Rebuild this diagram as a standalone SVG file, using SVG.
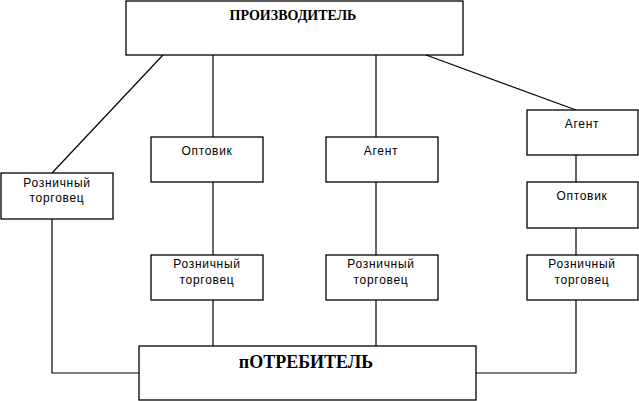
<svg xmlns="http://www.w3.org/2000/svg" width="639" height="401" viewBox="0 0 639 401">
<style>
.box{fill:#fff;stroke:#000;stroke-width:1.3}
.ln{fill:none;stroke:#000;stroke-width:1.2}
.t{font-family:"Liberation Sans",Arial,sans-serif;font-size:12px;text-anchor:middle;fill:#000;letter-spacing:0.7px}
.b{font-family:"Liberation Serif","Times New Roman",serif;font-weight:bold;text-anchor:middle;fill:#000}
</style>
<rect width="639" height="401" fill="#fff"/>
<g id="connectors">
<line class="ln" x1="163" y1="55" x2="52" y2="173"/>
<line class="ln" x1="213" y1="55" x2="213" y2="137"/>
<line class="ln" x1="213" y1="182" x2="213" y2="255"/>
<line class="ln" x1="213" y1="300" x2="213" y2="346"/>
<line class="ln" x1="376" y1="55" x2="376" y2="137"/>
<line class="ln" x1="376" y1="182" x2="376" y2="255"/>
<line class="ln" x1="376" y1="300" x2="376" y2="346"/>
<line class="ln" x1="426" y1="55" x2="576" y2="110"/>
<line class="ln" x1="576" y1="155" x2="576" y2="182"/>
<line class="ln" x1="576" y1="228" x2="576" y2="255"/>
<polyline class="ln" points="576,300 576,373 476,373"/>
<polyline class="ln" points="52,219 52,373 139,373"/>
</g>
<g id="producer">
<rect class="box" x="126" y="1" width="337" height="54"/>
<text class="b" x="293" y="20" font-size="14">ПРОИЗВОДИТЕЛЬ</text>
</g>
<g id="retailer-left">
<rect class="box" x="1" y="173" width="112" height="46"/>
<text class="t" x="57" y="187">Розничный</text>
<text class="t" x="57" y="202">торговец</text>
</g>
<g id="wholesaler-1">
<rect class="box" x="151" y="137" width="112" height="45"/>
<text class="t" x="207" y="155">Оптовик</text>
</g>
<g id="retailer-1">
<rect class="box" x="151" y="255" width="112" height="45"/>
<text class="t" x="207" y="268">Розничный</text>
<text class="t" x="207" y="284">торговец</text>
</g>
<g id="agent-2">
<rect class="box" x="326" y="137" width="112" height="45"/>
<text class="t" x="381" y="155">Агент</text>
</g>
<g id="retailer-2">
<rect class="box" x="326" y="255" width="112" height="45"/>
<text class="t" x="381" y="268">Розничный</text>
<text class="t" x="381" y="284">торговец</text>
</g>
<g id="agent-3">
<rect class="box" x="527" y="110" width="111" height="45"/>
<text class="t" x="582" y="128">Агент</text>
</g>
<g id="wholesaler-3">
<rect class="box" x="527" y="182" width="111" height="46"/>
<text class="t" x="582" y="200">Оптовик</text>
</g>
<g id="retailer-3">
<rect class="box" x="527" y="255" width="111" height="45"/>
<text class="t" x="582" y="268">Розничный</text>
<text class="t" x="582" y="284">торговец</text>
</g>
<g id="consumer">
<rect class="box" x="139" y="346" width="337" height="54"/>
<text class="b" x="306" y="368" font-size="18">пОТРЕБИТЕЛЬ</text>
</g>
</svg>
